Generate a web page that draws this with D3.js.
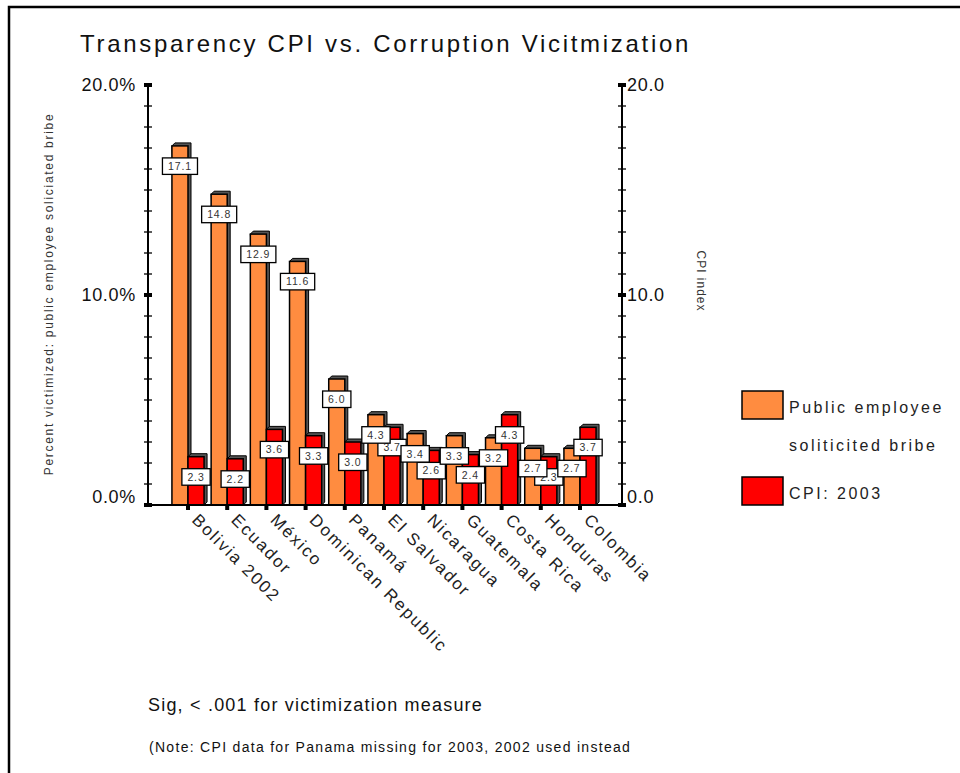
<!DOCTYPE html>
<html>
<head>
<meta charset="utf-8">
<script src="https://d3js.org/d3.v7.min.js"></script>
<style>
    body { margin: 0; background: #fff; }
    text { font-family: "Liberation Sans", Arial, sans-serif; }
</style>
</head>
<body>
<svg width="960" height="773"></svg>
<script>
// data
var countries = ["Bolivia 2002", "Ecuador", "México", "Dominican Republic", "Panamá",
    "El Salvador", "Nicaragua", "Guatemala", "Costa Rica", "Honduras", "Colombia"];
var bribe = [17.1, 14.8, 12.9, 11.6, 6.0, 4.3, 3.4, 3.3, 3.2, 2.7, 2.7];
var cpi = [2.3, 2.2, 3.6, 3.3, 3.0, 3.7, 2.6, 2.4, 4.3, 2.3, 3.7];
var seriesNames = ["Public employee soliticited bribe", "CPI: 2003"];
var leftTicks = [0, 10, 20];
var rightTicks = [0, 10, 20];

var colors = {bribe: "#ff8c40", cpi: "#ff0000"};

var svg = d3.select("svg");

// frame
svg.append("rect")
    .attr("x", 9).attr("y", 7)
    .attr("width", 980).attr("height", 800)
    .attr("fill", "none").attr("stroke", "#000").attr("stroke-width", 2.5);

var pLeft = 148, pRight = 622, pTop = 85, pBottom = 505;

var x = d3.scaleBand().domain(countries)
    .range([168.4, 599.6]).paddingInner(0.18).paddingOuter(0.09);
var xs = d3.scaleBand().domain(["bribe", "cpi"]).range([0, x.bandwidth()]);
var yL = d3.scaleLinear().domain([0, 20]).range([pBottom, pTop]);
var yR = d3.scaleLinear().domain([0, 20]).range([pBottom, pTop]);

var rows = countries.map(function (c, i) {
    return {country: c, bribe: bribe[i], cpi: cpi[i]};
});

// title
svg.append("text")
    .attr("x", 80).attr("y", 52)
    .style("font-size", "24px").style("letter-spacing", "2.7px")
    .attr("fill", "#111")
    .text("Transparency CPI vs. Corruption Vicitmization");

// bars with a little 3d depth
var d = 3;
function bar(g, key, yScale) {
    g.each(function (r) {
        var el = d3.select(this);
        var bx = x(r.country) + xs(key), bw = xs.bandwidth();
        var by = yScale(r[key]), bh = pBottom - by;
        el.append("path")
            .attr("d", "M" + bx + "," + by + "L" + (bx + d) + "," + (by - d) +
                "L" + (bx + bw + d) + "," + (by - d) + "L" + (bx + bw + d) + "," + (pBottom - d) +
                "L" + (bx + bw) + "," + pBottom + "Z")
            .attr("fill", "#555").attr("stroke", "#000").attr("stroke-width", 1);
        el.append("rect")
            .attr("x", bx).attr("y", by).attr("width", bw).attr("height", bh)
            .attr("fill", colors[key]).attr("stroke", "#000").attr("stroke-width", 1.5);
    });
}

var groups = svg.selectAll(".grp").data(rows).enter().append("g").attr("class", "grp");
groups.each(function (r) {
    var g = d3.select(this);
    bar(g.append("g").datum(r), "bribe", yL);
    bar(g.append("g").datum(r), "cpi", yR);
});

// value labels: red ones first, orange on top
function labels(key, yScale) {
    rows.forEach(function (r) {
        var cx = x(r.country) + xs(key) + xs.bandwidth() / 2;
        var ty = yScale(r[key]) + 12;
        var g = svg.append("g");
        var rect = g.append("rect");
        var t = g.append("text")
            .attr("x", cx).attr("y", ty + 12)
            .attr("text-anchor", "middle")
            .style("font-size", "10.5px").style("letter-spacing", "0.9px")
            .attr("fill", "#333")
            .text(r[key].toFixed(1));
        var w = t.node().getComputedTextLength() + 11;
        rect.attr("x", cx - w / 2).attr("y", ty).attr("width", w).attr("height", 16.5)
            .attr("fill", "#fff").attr("stroke", "#000").attr("stroke-width", 1.3);
    });
}
labels("cpi", yR);
labels("bribe", yL);

// base line
svg.append("line")
    .attr("x1", pLeft).attr("x2", pRight).attr("y1", pBottom).attr("y2", pBottom)
    .attr("stroke", "#000").attr("stroke-width", 2);

// axes
function axis(xPos, scale, ticks, fmt, side) {
    var g = svg.append("g");
    g.append("line").attr("x1", xPos).attr("x2", xPos)
        .attr("y1", scale(20)).attr("y2", scale(0))
        .attr("stroke", "#000").attr("stroke-width", 2);
    g.selectAll(".minor").data(d3.range(0, 21)).enter().append("line")
        .attr("x1", xPos - 4).attr("x2", xPos + 4)
        .attr("y1", function (v) { return scale(v); })
        .attr("y2", function (v) { return scale(v); })
        .attr("stroke", "#000").attr("stroke-width", 1.3);
    g.selectAll(".major").data(ticks).enter().append("rect")
        .attr("x", xPos - 4).attr("width", 8)
        .attr("y", function (v) { return scale(v) - 2; }).attr("height", 4)
        .attr("fill", "#000");
    g.selectAll(".lbl").data(ticks).enter().append("text")
        .attr("x", side < 0 ? xPos - 12 : xPos + 5)
        .attr("y", function (v) { return scale(v) - (v === 0 ? 8 : 0); })
        .attr("dy", "0.35em")
        .attr("text-anchor", side < 0 ? "end" : "start")
        .style("font-size", "18px").style("letter-spacing", "0.7px").attr("fill", "#111")
        .text(fmt);
}
axis(pLeft, yL, leftTicks, function (v) { return v.toFixed(1) + "%"; }, -1);
axis(pRight, yR, rightTicks, function (v) { return v.toFixed(1); }, 1);

// axis titles
svg.append("text")
    .attr("transform", "translate(53,294) rotate(-90)")
    .attr("text-anchor", "middle")
    .style("font-size", "12px").style("letter-spacing", "1.7px").attr("fill", "#333")
    .text("Percent victimized: public employee soliciated bribe");
svg.append("text")
    .attr("transform", "translate(697,281) rotate(90)")
    .attr("text-anchor", "middle")
    .style("font-size", "12px").style("letter-spacing", "1px").attr("fill", "#333")
    .text("CPI index");

// category ticks and labels
svg.selectAll(".ctick").data(countries).enter().append("rect")
    .attr("x", function (c) { return x(c) + x.bandwidth() / 2 - 2; })
    .attr("y", pBottom + 1).attr("width", 4).attr("height", 4).attr("fill", "#000");
svg.selectAll(".clbl").data(countries).enter().append("text")
    .attr("transform", function (c) {
        return "translate(" + (x(c) + x.bandwidth() / 2 + 3) + "," + (pBottom + 16) + ") rotate(45)";
    })
    .style("font-size", "17px").style("letter-spacing", "2px")
    .attr("fill", "#222")
    .text(function (c) { return c; });

// legend
var lg = svg.append("g");
lg.append("rect").attr("x", 742).attr("y", 391).attr("width", 41).attr("height", 28)
    .attr("fill", colors.bribe).attr("stroke", "#000").attr("stroke-width", 1.5);
lg.append("text").attr("x", 789).attr("y", 413)
    .style("font-size", "16px").style("letter-spacing", "2.5px").attr("fill", "#222")
    .text("Public employee");
lg.append("text").attr("x", 789).attr("y", 451)
    .style("font-size", "16px").style("letter-spacing", "2.5px").attr("fill", "#222")
    .text("soliticited bribe");
lg.append("rect").attr("x", 742).attr("y", 477).attr("width", 41).attr("height", 28)
    .attr("fill", colors.cpi).attr("stroke", "#000").attr("stroke-width", 1.5);
lg.append("text").attr("x", 789).attr("y", 499)
    .style("font-size", "16px").style("letter-spacing", "2.5px").attr("fill", "#222")
    .text(seriesNames[1]);

// notes
svg.append("text").attr("x", 148).attr("y", 711)
    .style("font-size", "18px").style("letter-spacing", "1.2px").attr("fill", "#111")
    .text("Sig, < .001 for victimization measure");
svg.append("text").attr("x", 149).attr("y", 752)
    .style("font-size", "14px").style("letter-spacing", "1.3px").attr("fill", "#111")
    .text("(Note: CPI data for Panama missing for 2003, 2002 used instead");
</script>
</body>
</html>
